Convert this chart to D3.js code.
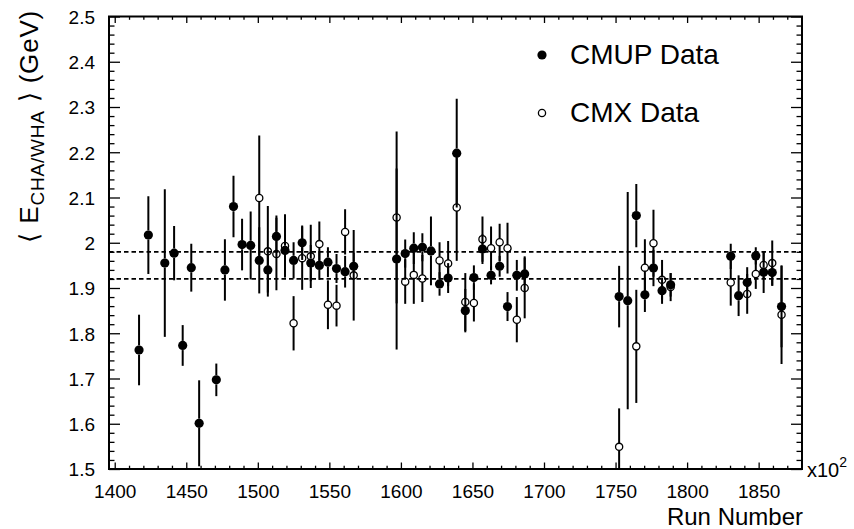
<!DOCTYPE html>
<html><head><meta charset="utf-8">
<script src="https://cdn.jsdelivr.net/npm/d3@7"></script>
<style>
html,body{margin:0;padding:0;background:#fff;}
svg text{font-family:"Liberation Sans",Arial,Helvetica,sans-serif;fill:#000;}
</style></head>
<body>
<svg id="c" width="854" height="529"></svg>
<script>
// ---- data (run number in units of 100) ----
const cmupRun = [1417,1423.5,1435,1441.5,1447.5,1453.5,1459,1471,1477,1483,1489,1495,1501,1507,1513,1519,1525,1531,1537,1543,1549,1555,1561,1567,
  1597,1603,1609,1615,1621,1627,1633,1639,1645,1651,1657,1663,1669,1674.5,1681,1686.5,
  1752.5,1758.5,1764.5,1770.5,1776.5,1782.5,1788.5,1830.5,1836,1842,1848,1853.5,1859.5,1866];
const cmupVal = [1.763,2.017,1.955,1.977,1.773,1.945,1.601,1.697,1.940,2.080,1.996,1.994,1.961,1.940,2.014,1.983,1.961,2.000,1.955,1.950,1.957,1.943,1.936,1.948,
  1.964,1.976,1.988,1.990,1.982,1.909,1.922,2.198,1.850,1.923,1.986,1.928,1.948,1.859,1.928,1.931,
  1.881,1.872,2.060,1.885,1.944,1.894,1.907,1.970,1.883,1.912,1.971,1.935,1.934,1.859];
const cmupErr = [0.078,0.086,0.163,0.060,0.045,0.053,0.095,0.036,0.068,0.068,0.057,0.075,0.073,0.050,0.046,0.050,0.040,0.038,0.040,0.032,0.033,0.032,0.035,0.030,
  0.200,0.031,0.035,0.031,0.076,0.026,0.033,0.120,0.048,0.027,0.033,0.020,0.023,0.032,0.034,0.039,
  0.068,0.240,0.070,0.038,0.040,0.029,0.026,0.028,0.045,0.034,0.019,0.046,0.029,0.090];

const cmxRun = [1501,1507,1513,1519,1525,1531,1537,1543,1549,1555,1561,1567,
  1597,1603,1609,1615,1627,1633,1639,1645,1651,1657,1663,1669,1674.5,1681,1686.5,
  1752.5,1764.5,1770.5,1776.5,1782.5,1788.5,1830.5,1842,1848,1853.5,1859.5,1866];
const cmxVal = [2.099,1.981,1.975,1.993,1.822,1.966,1.970,1.997,1.863,1.861,2.024,1.928,
  2.056,1.914,1.929,1.921,1.961,1.954,2.078,1.869,1.867,2.008,1.988,2.001,1.988,1.830,1.900,
  1.549,1.771,1.945,1.999,1.918,1.902,1.912,1.887,1.931,1.951,1.955,1.841];
const cmxErr = [0.138,0.100,0.080,0.070,0.060,0.070,0.070,0.050,0.054,0.046,0.050,0.100,
  0.190,0.049,0.064,0.052,0.040,0.050,0.118,0.064,0.041,0.050,0.048,0.041,0.056,0.050,0.067,
  0.085,0.125,0.063,0.074,0.044,0.031,0.051,0.044,0.033,0.030,0.050,0.109];

const refLines = [1.98, 1.92];
const xTickVals = [1400,1450,1500,1550,1600,1650,1700,1750,1800,1850];
const yTickVals = [1.5,1.6,1.7,1.8,1.9,2.0,2.1,2.2,2.3,2.4,2.5];
const yTickLabels = ["1.5","1.6","1.7","1.8","1.9","2","2.1","2.2","2.3","2.4","2.5"];
const legendLabels = ["CMUP Data","CMX Data"];

// ---- layout ----
const L=109, R=802, T=16.5, B=469;
const svg = d3.select("#c");
const x = d3.scaleLinear().domain([1396, 1880.3]).range([L, R]);
const y = d3.scaleLinear().domain([1.5, 2.5]).range([B, T]);

const xMinor = d3.range(1400, 1881, 10).filter(v => v % 50 !== 0);
const yMinor = d3.range(0, 51).map(i => +(1.5 + i*0.02).toFixed(3)).filter(v => Math.abs(v*10 - Math.round(v*10)) > 1e-6);

function styleAxis(g){ g.select(".domain").remove(); g.selectAll("line").attr("stroke","#000").attr("stroke-width",1.3); }

// bottom axis
svg.append("g").attr("transform",`translate(0,${B})`)
  .call(d3.axisBottom(x).tickValues(xTickVals).tickSize(-6.5).tickFormat(d3.format("d")))
  .call(styleAxis)
  .call(g => g.selectAll("text").attr("y",29).attr("dy",null).style("font-size","19px"));
svg.append("g").attr("transform",`translate(0,${B})`)
  .call(d3.axisBottom(x).tickValues(xMinor).tickSize(-3.3).tickFormat(""))
  .call(styleAxis);
// top axis
svg.append("g").attr("transform",`translate(0,${T})`)
  .call(d3.axisTop(x).tickValues(xTickVals).tickSize(-6.5).tickFormat(""))
  .call(styleAxis);
svg.append("g").attr("transform",`translate(0,${T})`)
  .call(d3.axisTop(x).tickValues(xMinor).tickSize(-3.3).tickFormat(""))
  .call(styleAxis);
// left axis
svg.append("g").attr("transform",`translate(${L},0)`)
  .call(d3.axisLeft(y).tickValues(yTickVals).tickSize(-11).tickFormat((d,i)=>yTickLabels[i]))
  .call(styleAxis)
  .call(g => g.selectAll("text").attr("x",-14).attr("dy","0.36em").style("font-size","19px"));
svg.append("g").attr("transform",`translate(${L},0)`)
  .call(d3.axisLeft(y).tickValues(yMinor).tickSize(-5.5).tickFormat(""))
  .call(styleAxis);
// right axis
svg.append("g").attr("transform",`translate(${R},0)`)
  .call(d3.axisRight(y).tickValues(yTickVals).tickSize(-11).tickFormat(""))
  .call(styleAxis);
svg.append("g").attr("transform",`translate(${R},0)`)
  .call(d3.axisRight(y).tickValues(yMinor).tickSize(-5.5).tickFormat(""))
  .call(styleAxis);

// frame
svg.append("rect").attr("x",L).attr("y",T).attr("width",R-L).attr("height",B-T)
  .attr("fill","none").attr("stroke","#000").attr("stroke-width",2);

// dashed reference lines
svg.selectAll("line.ref").data(refLines).enter().append("line").attr("class","ref")
  .attr("x1",L).attr("x2",R).attr("y1",d=>y(d)).attr("y2",d=>y(d))
  .attr("stroke","#000").attr("stroke-width",1.8).attr("stroke-dasharray","4.5,3");

svg.append("clipPath").attr("id","pc").append("rect").attr("x",L).attr("y",T).attr("width",R-L).attr("height",B-T);
const plot = svg.append("g").attr("clip-path","url(#pc)");

function drawSeries(runs, vals, errs, filled){
  const r = filled ? 4.6 : 3.6;
  const data = runs.map((d,i)=>({run:d, v:vals[i], e:errs[i]}));
  const g = plot.append("g");
  data.forEach(d=>{
    const cx = x(d.run), cy = y(d.v), yt = y(d.v + d.e), yb = y(d.v - d.e);
    if (cy - r > yt) g.append("line").attr("x1",cx).attr("x2",cx).attr("y1",yt).attr("y2",cy-r)
      .attr("stroke","#000").attr("stroke-width",2);
    if (yb > cy + r) g.append("line").attr("x1",cx).attr("x2",cx).attr("y1",cy+r).attr("y2",yb)
      .attr("stroke","#000").attr("stroke-width",2);
  });
  g.selectAll("circle").data(data).enter().append("circle")
    .attr("cx",d=>x(d.run)).attr("cy",d=>y(d.v)).attr("r",r)
    .attr("fill",filled?"#000":"none").attr("stroke","#000").attr("stroke-width",filled?0:1.3);
}
drawSeries(cmupRun, cmupVal, cmupErr, true);
drawSeries(cmxRun, cmxVal, cmxErr, false);

// legend
const leg = svg.append("g");
leg.append("circle").attr("cx",542).attr("cy",55).attr("r",4.6).attr("fill","#000");
leg.append("circle").attr("cx",542).attr("cy",113).attr("r",3.6).attr("fill","none").attr("stroke","#000").attr("stroke-width",1.3);
leg.append("text").attr("x",570).attr("y",64).style("font-size","28px").text(legendLabels[0]);
leg.append("text").attr("x",570).attr("y",122).style("font-size","28px").text(legendLabels[1]);

// axis titles
svg.append("text").attr("x",803).attr("y",525).attr("text-anchor","end").style("font-size","24px").text("Run Number");
const xm = svg.append("text").attr("x",807).attr("y",477).style("font-size","20px");
xm.append("tspan").text("x10");
xm.append("tspan").attr("dy",-10).style("font-size","14px").text("2");

const yt = svg.append("text").attr("transform","translate(38,10) rotate(-90)").attr("text-anchor","end")
  .style("font-size","26px").style("letter-spacing","0.8px");
yt.append("tspan").text("\u27E8 E");
yt.append("tspan").attr("dy",6).style("font-size","19px").text("CHA/WHA");
yt.append("tspan").attr("dy",-6).text(" \u27E9 (GeV)");
</script>
</body></html>
